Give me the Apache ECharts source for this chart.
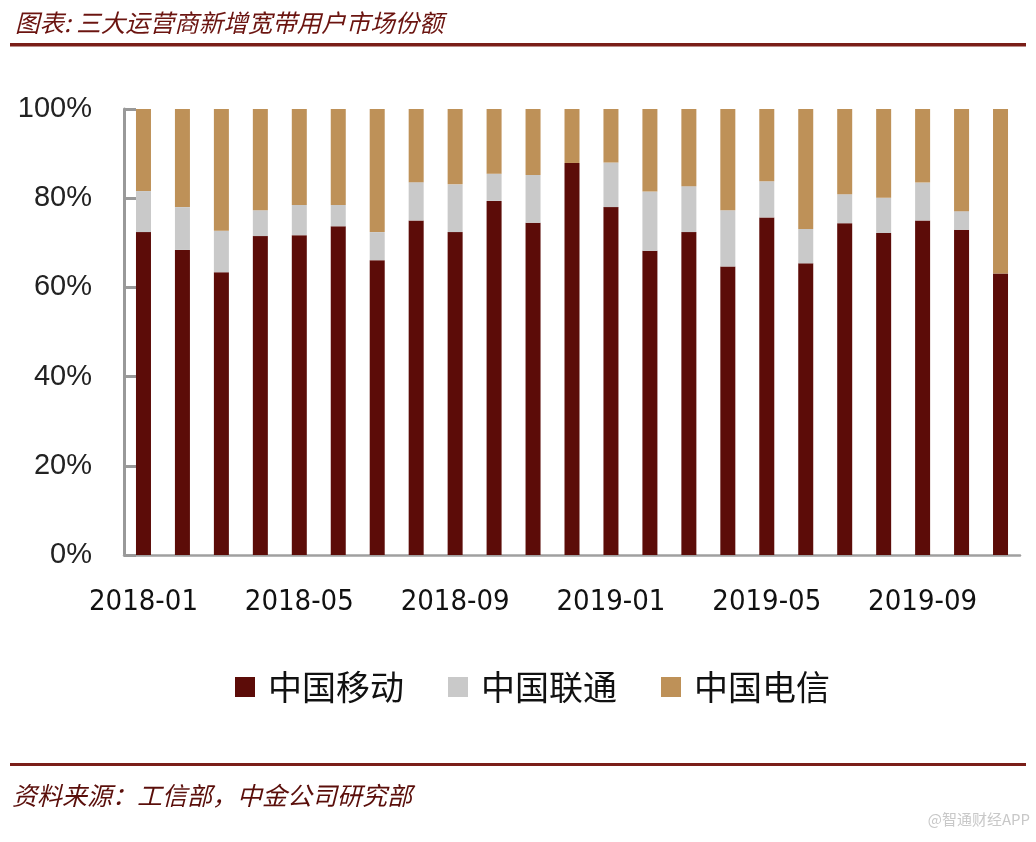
<!DOCTYPE html>
<html><head><meta charset="utf-8">
<script src="https://cdn.jsdelivr.net/npm/echarts@6/dist/echarts.min.js"></script>
<style>html,body{margin:0;padding:0;background:#fff}#c{width:1036px;height:842px}</style>
</head><body><div id="c"></div>
<script>
const categories = ['2018-01','2018-02','2018-03','2018-04','2018-05','2018-06','2018-07','2018-08','2018-09','2018-10','2018-11','2018-12',
  '2019-01','2019-02','2019-03','2019-04','2019-05','2019-06','2019-07','2019-08','2019-09','2019-10','2019-11'];
const mobile  = [72.4,68.4,63.4,71.5,71.7,73.7,66.1,75.0,72.4,79.4,74.5,87.9,78.0,68.2,72.4,64.7,75.7,65.4,74.4,72.2,75.0,72.9,63.1];
const unicom  = [9.2,9.6,9.3,5.8,6.8,4.8,6.3,8.6,10.7,6.1,10.7,0,10.0,13.3,10.3,12.6,8.1,7.7,6.5,7.9,8.5,4.2,0];
const telecom = mobile.map((m,i)=>+(100-m-unicom[i]).toFixed(1));
const yTicks = [0,20,40,60,80,100];

const chart = echarts.init(document.getElementById('c'));
const barCommon = {type:'bar', stack:'s', barWidth:15};
chart.setOption({
  animation:false,
  backgroundColor:'#fff',
  title:{text:'图表: 三大运营商新增宽带用户市场份额', left:10, top:5,
    textStyle:{fontFamily:'Noto Sans CJK SC', fontStyle:'italic', fontWeight:'normal', fontSize:24.5, color:'#6B1410'}},
  graphic:[
    {type:'rect', shape:{x:10,y:43,width:1016,height:3.5}, style:{fill:'#7A1E18'}},
    {type:'rect', shape:{x:10,y:763,width:1016,height:3}, style:{fill:'#7A1E18'}},
    {type:'text', left:12, top:783, style:{text:'资料来源：工信部，中金公司研究部', fontFamily:'Noto Sans CJK SC', fontStyle:'italic', fontSize:25, fill:'#5A0E0A'}},
    {type:'text', right:6, top:812, style:{text:'@智通财经APP', fontFamily:'Noto Sans CJK SC', fontSize:15, fill:'#c8c8c8'}}
  ],
  legend:{bottom:133, left:230, itemWidth:20, itemHeight:20, itemGap:44, icon:'rect',
    textStyle:{fontFamily:'Noto Sans CJK SC', fontSize:34, color:'#111', padding:[0,0,0,8]},
    data:['中国移动','中国联通','中国电信']},
  grid:{left:124, right:16, top:109, bottom:287},
  xAxis:{type:'category', data:categories,
    axisLine:{lineStyle:{color:'#a0a0a0', width:2.5}},
    axisTick:{inside:true, length:8, interval:3, lineStyle:{color:'#a0a0a0', width:2}},
    axisLabel:{interval:3, margin:33, fontFamily:'DejaVu Sans Condensed, Liberation Sans', fontSize:29, color:'#111'}},
  yAxis:{type:'value', min:0, max:100, interval:20,
    axisLine:{show:true, lineStyle:{color:'#999', width:3}},
    axisTick:{show:true, inside:true, length:12, lineStyle:{color:'#999', width:3}},
    splitLine:{show:false},
    axisLabel:{formatter:v=>yTicks.includes(v)?v+'%':'', margin:32, fontFamily:'Liberation Sans', fontSize:29, color:'#222'}},
  series:[
    Object.assign({name:'中国移动', data:mobile, itemStyle:{color:'#5C0C08'}}, barCommon),
    Object.assign({name:'中国联通', data:unicom, itemStyle:{color:'#C9C9C9'}}, barCommon),
    Object.assign({name:'中国电信', data:telecom, itemStyle:{color:'#BE9158'}}, barCommon)
  ]
});
</script></body></html>
